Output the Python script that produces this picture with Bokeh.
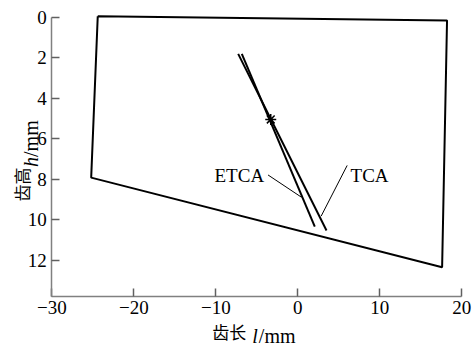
import math
from bokeh.plotting import figure
from bokeh.models import Range1d, FixedTicker, Label
from bokeh.embed import file_html
from bokeh.resources import INLINE

# ---- data ----
boundary_l = [-24.4, 18.2, 17.6, -25.2, -24.4]   # tooth length l (mm)
boundary_h = [-0.05, 0.16, 12.35, 7.92, -0.05]    # tooth height h (mm)

tca_l = [-7.27, 3.50]
tca_h = [1.81, 10.53]

etca_l = [-6.83, 2.07]
etca_h = [1.81, 10.34]

point_l = [-3.3]
point_h = [5.05]

x_ticks = [-30, -20, -10, 0, 10, 20]
x_tick_labels = ["\u221230", "\u221220", "\u221210", "0", "10", "20"]
y_ticks = [0, 2, 4, 6, 8, 10, 12]
y_tick_labels = ["0", "2", "4", "6", "8", "10", "12"]

X_MIN, X_MAX = -30, 20
H_MAX = 13.79

SERIF = "Liberation Serif"
CJK = "Noto Sans CJK SC"

# frame spans the whole canvas; axes are pinned at the data origin corner
p = figure(width=474, height=347,
           x_range=Range1d(-36.26, 21.55), y_range=Range1d(16.31, -0.825),
           output_backend="svg", toolbar_location=None,
           min_border=0)
p.outline_line_color = None
p.grid.visible = False
p.background_fill_color = "white"
p.border_fill_color = "white"

p.xaxis.fixed_location = H_MAX
p.yaxis.fixed_location = X_MIN
p.xaxis.bounds = (X_MIN, X_MAX)
p.yaxis.bounds = (0, H_MAX)

for ax, ticks, labs in ((p.xaxis, x_ticks, x_tick_labels), (p.yaxis, y_ticks, y_tick_labels)):
    ax.ticker = FixedTicker(ticks=ticks)
    ax.major_label_overrides = {t: s for t, s in zip(ticks, labs)}
    ax.major_label_text_font = SERIF
    ax.major_label_text_font_size = "19px"
    ax.major_label_text_color = "black"
    ax.axis_line_color = "#808080"
    ax.axis_line_width = 1.5
    ax.major_tick_line_color = "#606060"
    ax.major_tick_line_width = 1.5
    ax.major_tick_in = 8
    ax.major_tick_out = 0
    ax.minor_tick_line_color = None
    ax.major_label_standoff = 5

# boundary polygon
p.line(boundary_l, boundary_h, line_color="black", line_width=2)
# contact lines
p.line(tca_l, tca_h, line_color="black", line_width=2)
p.line(etca_l, etca_h, line_color="black", line_width=2)
# marker
p.scatter(point_l, point_h, marker="asterisk", size=11, line_color="black", line_width=1.5)

# leader lines
p.line([-3.63, 0.45], [7.79, 8.89], line_color="black", line_width=1)
p.line([6.02, 2.85], [7.32, 9.82], line_color="black", line_width=1)

p.add_layout(Label(x=-10.16, y=7.82, text="ETCA", text_font=SERIF, text_font_size="19px",
                   text_align="left", text_baseline="alphabetic", text_color="black"))
p.add_layout(Label(x=6.43, y=7.82, text="TCA", text_font=SERIF, text_font_size="19px",
                   text_align="left", text_baseline="alphabetic", text_color="black"))

# x axis title: 齿长 l/mm
p.add_layout(Label(x=-10.44, y=15.5, text="齿长", text_font=CJK, text_font_size="17px",
                   text_align="left", text_baseline="middle", text_color="black"))
p.add_layout(Label(x=-5.55, y=15.72, text="l", text_font=SERIF, text_font_style="italic",
                   text_font_size="20px", text_align="left", text_baseline="alphabetic", text_color="black"))
p.add_layout(Label(x=-4.75, y=15.72, text="/mm", text_font=SERIF, text_font_size="20px",
                   text_align="left", text_baseline="alphabetic", text_color="black"))

# y axis title: 齿高 h/mm (rotated)
p.add_layout(Label(x=-33.7, y=9.1, text="齿高", text_font=CJK, text_font_size="17px",
                   angle=math.pi / 2, text_align="left", text_baseline="middle", text_color="black"))
p.add_layout(Label(x=-32.55, y=7.4, text="h", text_font=SERIF, text_font_style="italic",
                   text_font_size="20px", angle=math.pi / 2, text_align="left",
                   text_baseline="alphabetic", text_color="black"))
p.add_layout(Label(x=-32.55, y=6.9, text="/mm", text_font=SERIF, text_font_size="20px",
                   angle=math.pi / 2, text_align="left", text_baseline="alphabetic", text_color="black"))

open("out.html", "w").write(file_html(p, INLINE))
